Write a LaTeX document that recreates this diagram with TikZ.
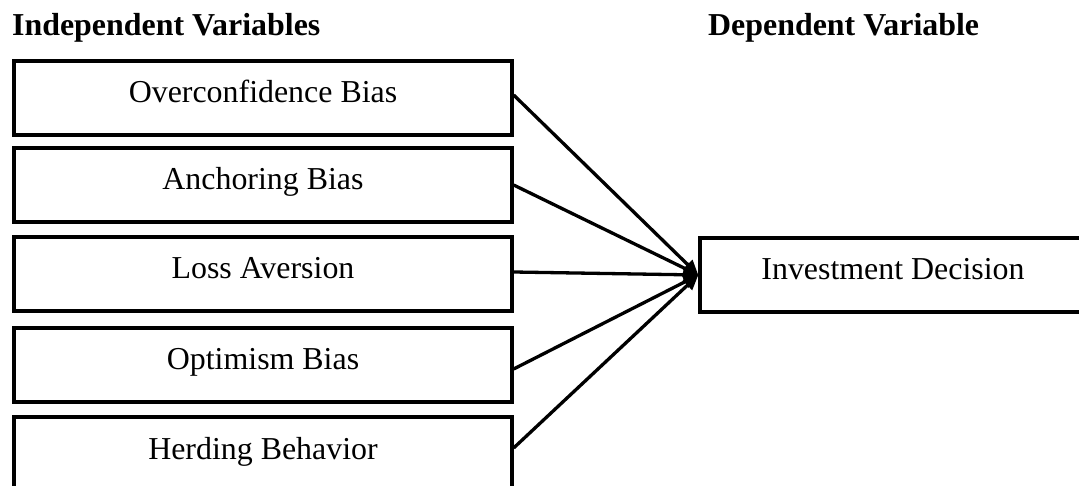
\documentclass[tikz,border=0pt]{standalone}
\usepackage{fontspec}
\setmainfont{Liberation Serif}
\usetikzlibrary{arrows.meta}
\begin{document}
\begin{tikzpicture}[x=1pt,y=-1pt,
  varbox/.style={draw, line width=3.3pt, minimum width=498pt, minimum height=74pt, inner sep=0pt, text height=20pt, text depth=10pt, font=\fontsize{31.9}{36}\selectfont},
  depbox/.style={varbox, minimum width=386pt},
  hdr/.style={anchor=base west, inner sep=0pt, font=\fontsize{31.9}{36}\selectfont\bfseries},
  link/.style={line width=3.3pt, -{Triangle[length=15pt,width=13pt]}}]
\useasboundingbox (0,0) rectangle (1079,486);
\node[hdr] (hi) at (12,36) {Independent Variables};
\node[hdr] (hd) at (708,36) {Dependent Variable};
\node[varbox] (b1) at (263,98) {Overconfidence Bias};
\node[varbox] (b2) at (263,185) {Anchoring Bias};
\node[varbox] (b3) at (263,274) {Loss Aversion};
\node[varbox] (b4) at (263,365) {Optimism Bias};
\node[varbox] (b5) at (263,454) {Herding Behavior};
\node[depbox] (inv) at (893,275) {Investment Decision};
\draw[link] ([yshift=3pt]b1.east) -- (inv.west);
\draw[link] (b2.east) -- (inv.west);
\draw[link] ([yshift=2pt]b3.east) -- (inv.west);
\draw[link] ([yshift=-4pt]b4.east) -- (inv.west);
\draw[link] ([yshift=6pt]b5.east) -- (inv.west);
\end{tikzpicture}
\end{document}
